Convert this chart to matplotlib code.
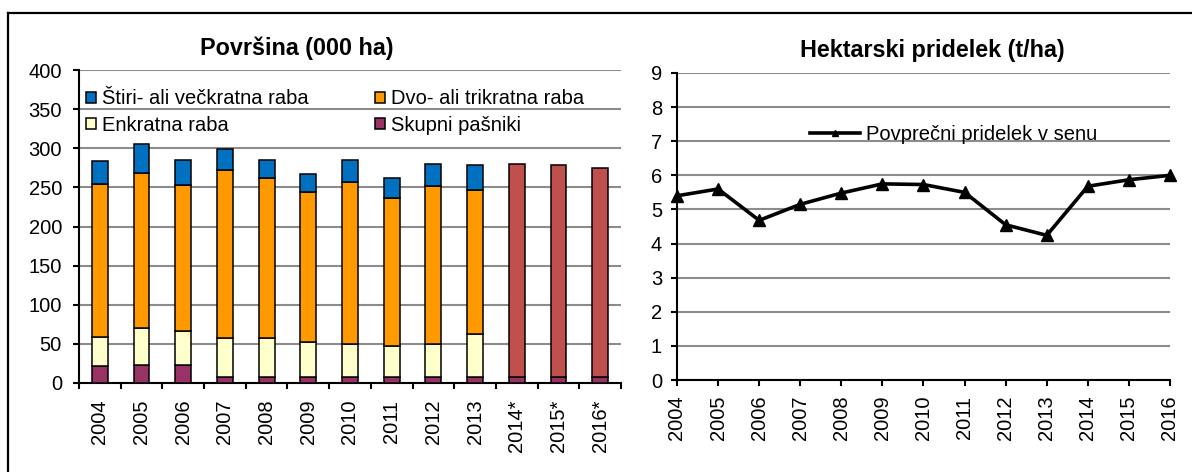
import matplotlib
matplotlib.use("Agg")
import matplotlib.pyplot as plt
from matplotlib.lines import Line2D
import numpy as np

plt.rcParams['font.family'] = ['Liberation Sans', 'DejaVu Sans']

# left chart: area (000 ha)
categories = ["2004", "2005", "2006", "2007", "2008", "2009", "2010",
              "2011", "2012", "2013", "2014*", "2015*", "2016*"]
skupni = [22, 23, 23, 8, 8, 8, 8, 8, 8, 8, 8, 8, 8]
enkratna = [37, 47, 44, 49.5, 49.5, 44.5, 42, 39, 42, 55, 0, 0, 0]
dvo = [195, 199, 186, 215, 205, 192, 207, 190, 202, 184, 0, 0, 0]
stiri = [30, 36, 32, 26, 22.5, 23, 28, 25.5, 28.5, 31.5, 0, 0, 0]
skupaj = [0, 0, 0, 0, 0, 0, 0, 0, 0, 0, 272, 270, 267]

# right chart: yield (t/ha)
years = [2004, 2005, 2006, 2007, 2008, 2009, 2010, 2011, 2012, 2013, 2014, 2015, 2016]
pridelek = [5.4, 5.6, 4.68, 5.15, 5.48, 5.75, 5.73, 5.5, 4.55, 4.24, 5.68, 5.87, 6.0]

W, H = 1192, 472
grid_col = "#8c8c8c"
fs = 14.5

fig = plt.figure(figsize=(W / 100, H / 100), dpi=100)

# frame around the figure (cropped on right and bottom)
fig.add_artist(Line2D([8 / W, 1.0], [1 - 13 / H, 1 - 13 / H], color="black", lw=1.6))
fig.add_artist(Line2D([8 / W, 8 / W], [0, 1 - 13 / H], color="black", lw=1.6))

ax1 = fig.add_axes([79 / W, 1 - 383 / H, 542 / W, 313 / H])
x = np.arange(len(categories))
w = 0.38
ec = dict(edgecolor="black", linewidth=1.1)
b0 = np.array(skupni)
b1 = b0 + np.array(enkratna)
b2 = b1 + np.array(dvo)
ax1.bar(x, skupni, w, color="#993366", label="Skupni pašniki", zorder=3, **ec)
ax1.bar(x[:10], enkratna[:10], w, bottom=b0[:10], color="#FFFFCC", label="Enkratna raba", zorder=3, **ec)
ax1.bar(x[:10], dvo[:10], w, bottom=b1[:10], color="#FF9900", label="Dvo- ali trikratna raba", zorder=3, **ec)
ax1.bar(x[:10], stiri[:10], w, bottom=b2[:10], color="#0070C0", label="Štiri- ali večkratna raba", zorder=3, **ec)
ax1.bar(x[10:], skupaj[10:], w, bottom=b0[10:], color="#C0504D", zorder=3, **ec)

ax1.set_xlim(-0.5, len(categories) - 0.5)
ax1.set_ylim(0, 400)
ax1.set_yticks(range(0, 401, 50))
ax1.set_xticks(x)
ax1.set_xticklabels(categories, rotation=90, fontsize=fs)
ax1.set_xticks(np.arange(-0.5, len(categories)), minor=True)
ax1.tick_params(axis="x", which="major", length=0, pad=12)
ax1.tick_params(axis="x", which="minor", length=4.3, width=1.5, direction="out")
ax1.tick_params(axis="y", labelsize=fs, length=4.3, width=1.5, pad=8)
ax1.yaxis.grid(True, color=grid_col, lw=1.5, zorder=0)
ax1.set_axisbelow(True)
for s in ["top", "right"]:
    ax1.spines[s].set_visible(False)
for s in ["left", "bottom"]:
    ax1.spines[s].set_linewidth(1.5)
fig.text(297 / W, 1 - 55 / H, "Površina (000 ha)", fontsize=16.8, fontweight="bold",
         ha="center", va="baseline")

h, l = ax1.get_legend_handles_labels()
order = [3, 1, 2, 0]
fig.legend([h[i] for i in order], [l[i] for i in order], ncol=2, frameon=False,
           fontsize=fs, loc="center left", bbox_to_anchor=(86 / W, 1 - 112 / H),
           handlelength=0.5, handleheight=0.5, handletextpad=0.3,
           columnspacing=3.3, labelspacing=0.35, borderpad=0, borderaxespad=0)

ax2 = fig.add_axes([677 / W, 1 - 380 / H, 493 / W, 307 / H])
ax2.plot(years, pridelek, color="black", lw=2.6, marker="^", markersize=8,
         label="Povprečni pridelek v senu", clip_on=False, zorder=4)
ax2.set_xlim(2004, 2016)
ax2.set_ylim(0, 9)
ax2.set_yticks(range(0, 10))
ax2.set_xticks(years)
ax2.set_xticklabels([str(y) for y in years], rotation=90, fontsize=fs)
ax2.tick_params(axis="x", length=4.3, width=1.5, pad=7)
ax2.tick_params(axis="y", labelsize=fs, length=4.3, width=1.5, pad=6.5)
ax2.yaxis.grid(True, color=grid_col, lw=1.5, zorder=0)
ax2.set_axisbelow(True)
for s in ["top", "right"]:
    ax2.spines[s].set_visible(False)
for s in ["left", "bottom"]:
    ax2.spines[s].set_linewidth(1.5)
fig.text(932 / W, 1 - 57 / H, "Hektarski pridelek (t/ha)", fontsize=16.8, fontweight="bold",
         ha="center", va="baseline")
fig.legend(*ax2.get_legend_handles_labels(), frameon=False, fontsize=fs,
           loc="center left", bbox_to_anchor=(810 / W, 1 - 135 / H),
           handlelength=2.5, handletextpad=0.3, markerscale=0.6,
           borderpad=0, borderaxespad=0)

fig.savefig("out.png", dpi=100)
